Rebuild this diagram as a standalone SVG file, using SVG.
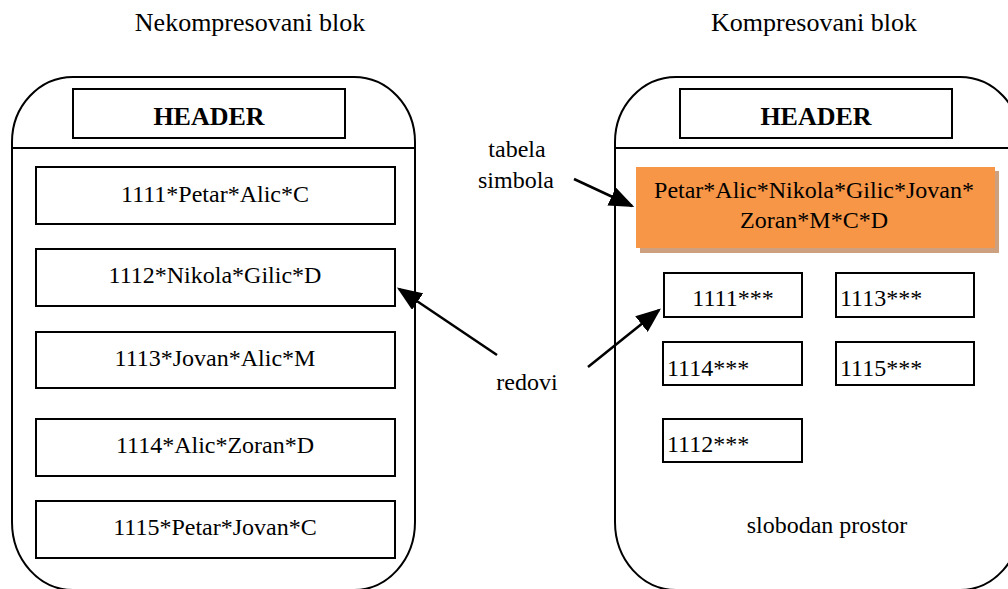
<svg xmlns="http://www.w3.org/2000/svg" width="1008" height="589" viewBox="0 0 1008 589">
<style>
text{font-family:"Liberation Serif","Times New Roman",serif;fill:#000}
.t{font-size:24px}
.ttl{font-size:26px;text-anchor:middle}
.hd{font-size:26px;font-weight:bold;text-anchor:middle}
.c{text-anchor:middle}
.box{fill:#fff;stroke:#000;stroke-width:2}
.cont{fill:#fff;stroke:#000;stroke-width:2}
.ln{stroke:#000;stroke-width:2}
.conn{stroke:#000;stroke-width:2.5;fill:none}
</style>
<defs>
<marker id="ah" markerWidth="10" markerHeight="8" refX="9" refY="4" orient="auto" markerUnits="strokeWidth">
<path d="M0,0 L10,4 L0,8 Z" fill="#000"/>
</marker>
</defs>
<rect width="1008" height="589" fill="#fff"/>
<g id="title-left"><text class="ttl" x="250" y="31">Nekompresovani blok</text></g>
<g id="title-right"><text class="ttl" x="814" y="31">Kompresovani blok</text></g>

<g id="block-left">
<path class="cont" d="M12,142 A61,65 0 0 1 73,77 L354,77 A61,65 0 0 1 415,142 L415,522 A61,68 0 0 1 354,590 L73,590 A61,68 0 0 1 12,522 Z"/>
<line class="ln" x1="12" y1="148" x2="415" y2="148"/>
</g>
<g id="header-left"><rect class="box" x="73" y="89" width="272" height="49"/><text class="hd" x="209" y="125">HEADER</text></g>
<g id="row-1111"><rect class="box" x="36" y="167" width="359" height="57"/><text class="t c" x="215" y="202">1111*Petar*Alic*C</text></g>
<g id="row-1112"><rect class="box" x="36" y="249" width="359" height="57"/><text class="t c" x="215" y="283">1112*Nikola*Gilic*D</text></g>
<g id="row-1113"><rect class="box" x="36" y="332" width="359" height="56"/><text class="t c" x="215" y="366">1113*Jovan*Alic*M</text></g>
<g id="row-1114"><rect class="box" x="36" y="419" width="359" height="57"/><text class="t c" x="215" y="453">1114*Alic*Zoran*D</text></g>
<g id="row-1115"><rect class="box" x="36" y="501" width="359" height="57"/><text class="t c" x="215" y="535">1115*Petar*Jovan*C</text></g>

<g id="block-right">
<path class="cont" d="M615,142 A61,65 0 0 1 676,77 L960,77 A61,65 0 0 1 1021,142 L1021,522 A61,68 0 0 1 960,590 L676,590 A61,68 0 0 1 615,522 Z"/>
<line class="ln" x1="615" y1="148" x2="1021" y2="148"/>
</g>
<g id="header-right"><rect class="box" x="680" y="89" width="272" height="49"/><text class="hd" x="816" y="125">HEADER</text></g>
<g id="symbol-table">
<rect x="640" y="171" width="359" height="82" fill="#CDA080"/>
<rect x="636" y="167" width="359" height="81" fill="#F79646"/>
<text class="t c" x="814" y="198">Petar*Alic*Nikola*Gilic*Jovan*</text>
<text class="t c" x="814" y="228">Zoran*M*C*D</text>
</g>
<g id="c-1111"><rect class="box" x="664" y="273" width="138" height="44"/><text class="t c" x="733" y="306">1111***</text></g>
<g id="c-1113"><rect class="box" x="836" y="273" width="138" height="44"/><text class="t" x="840" y="306">1113***</text></g>
<g id="c-1114"><rect class="box" x="663" y="342" width="139" height="43"/><text class="t" x="667" y="376">1114***</text></g>
<g id="c-1115"><rect class="box" x="836" y="342" width="138" height="43"/><text class="t" x="840" y="376">1115***</text></g>
<g id="c-1112"><rect class="box" x="663" y="419" width="139" height="43"/><text class="t" x="667" y="452">1112***</text></g>
<g id="free-space"><text class="t c" x="827" y="533">slobodan prostor</text></g>

<g id="label-tabela"><text class="t c" x="517" y="157">tabela</text><text class="t c" x="516" y="188">simbola</text></g>
<g id="label-redovi"><text class="t c" x="527" y="390">redovi</text></g>

<g id="connectors">
<line class="conn" x1="574" y1="179" x2="632" y2="206" marker-end="url(#ah)"/>
<line class="conn" x1="497" y1="355" x2="399" y2="289" marker-end="url(#ah)"/>
<line class="conn" x1="588" y1="367" x2="659" y2="310" marker-end="url(#ah)"/>
</g>
</svg>
